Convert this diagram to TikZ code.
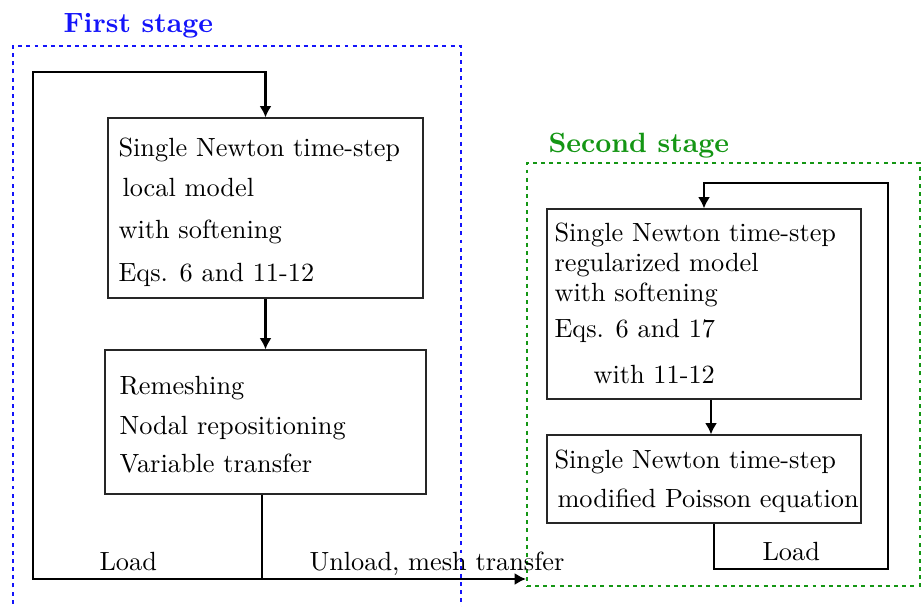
\documentclass[tikz,border=0pt]{standalone}
\usetikzlibrary{arrows.meta}
\definecolor{stageblue}{RGB}{20,20,250}
\definecolor{stagegreen}{RGB}{20,150,20}
\def\u{0.38pt}
\begin{document}
\begin{tikzpicture}[x=0.38pt,y=-0.38pt,
  box/.style={draw=black!85,line width=0.45pt,inner sep=0pt,fill=none},
  line/.style={line width=0.9pt},
  flow/.style={line width=0.9pt,-{Latex[length=4.3pt,width=4.6pt]}},
  txt/.style={anchor=base west,inner sep=0pt},
  title/.style={anchor=base west,inner sep=0pt,font=\fontsize{10.6}{12}\selectfont\bfseries},
  frame/.style={line width=0.9pt,dash pattern=on 1.5pt off 1.6pt}]
\useasboundingbox (0,0) rectangle (923,606);
% stage frames
\draw[frame,stageblue] (13,620) -- (13,46) -- (461,46) -- (461,620);
\node[title,text=stageblue] (t1) at (63,33) {First stage};
\node[box,draw=stagegreen,frame,minimum width=393*\u,minimum height=423*\u] (g) at (723.5,374.5) {};
\node[title,text=stagegreen] (t2) at (548,153) {Second stage};
% first stage boxes
\node[box,minimum width=315*\u,minimum height=180*\u] (b1) at (265.5,208) {};
\node[box,minimum width=321*\u,minimum height=144*\u] (b2) at (265.5,422) {};
\node[txt] (b1l1) at (118,157) {Single Newton time-step};
\node[txt] (b1l2) at (122,197) {local model};
\node[txt] (b1l3) at (118,239) {with softening};
\node[txt] (b1l4) at (118,282) {Eqs. 6 and 11-12};
\node[txt] (b2l1) at (119,394) {Remeshing};
\node[txt] (b2l2) at (119,434) {Nodal repositioning};
\node[txt] (b2l3) at (119,472) {Variable transfer};
% second stage boxes
\node[box,minimum width=314*\u,minimum height=190*\u] (b3) at (704,304) {};
\node[box,minimum width=314*\u,minimum height=88*\u] (b4) at (704,479) {};
\node[txt] (b3l1) at (554,242) {Single Newton time-step};
\node[txt] (b3l2) at (554,272) {regularized model};
\node[txt] (b3l3) at (554,302) {with softening};
\node[txt] (b3l4) at (554,337) {Eqs. 6 and 17};
\node[txt] (b3l5) at (593,383) {with 11-12};
\node[txt] (b4l1) at (554,468) {Single Newton time-step};
\node[txt] (b4l2) at (557,507) {modified Poisson equation};
% connector coordinates
\coordinate (j) at (262,579);
\coordinate (bl) at (33,579);
\coordinate (tl) at (33,72);
\coordinate (gin) at (526,579);
\coordinate (r1) at (888,569);
\coordinate (r2) at (888,183);
% connectors
\draw[flow] (b1.south) -- (b2.north);
\draw[line] (b2.south -| j) -- (j);
\draw[flow] (j) -- (bl) -- (tl) -| (b1.north);
\draw[flow] (j) -- (gin);
\draw[flow] ([xshift=7*\u]b3.south) -- ([xshift=7*\u]b4.north);
\draw[flow] ([xshift=10*\u]b4.south) |- (r1) -- (r2) -| (b3.north);
% labels
\node[txt] (load1) at (99,570) {Load};
\node[txt] (unload) at (309,570) {Unload, mesh transfer};
\node[txt] (load2) at (762,560) {Load};
\end{tikzpicture}
\end{document}
